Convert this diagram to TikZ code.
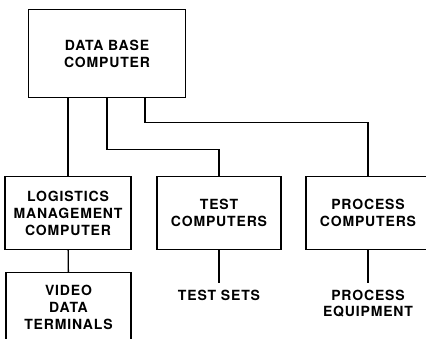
\documentclass[tikz,border=0pt]{standalone}
\usepackage{fontspec}
\setmainfont{TeX Gyre Heros}
\newfontfamily\boxfont[LetterSpace=6]{TeX Gyre Heros}
\usepackage{tikz}
\usetikzlibrary{arrows.meta,positioning}

\begin{document}
\begin{tikzpicture}[x=1pt,y=-1pt,node distance=33pt,line width=1.4pt,
 box/.style={draw,align=center,inner sep=0pt,font=\boxfont\bfseries\fontsize{14}{17}\selectfont},
 tag/.style={align=center,inner xsep=0pt,inner ysep=6pt,font=\boxfont\bfseries\fontsize{14}{16}\selectfont}]
\useasboundingbox (0,0) rectangle (426,338);
\node[box,minimum width=157pt,minimum height=88pt] (db) at (107,53.5) {DATA BASE\\COMPUTER};
\node[box,minimum width=126pt,minimum height=73pt] (logi) at (68,213) {LOGISTICS\\MANAGEMENT\\COMPUTER};
\node[box,minimum width=124pt,minimum height=73pt] (test) at (219,213) {TEST\\COMPUTERS};
\node[box,minimum width=124pt,minimum height=73pt] (proc) at (368,213) {PROCESS\\COMPUTERS};
\node[box,minimum width=125pt,minimum height=70pt] (vdt) at (68.5,307.5) {VIDEO\\DATA\\TERMINALS};
\node[tag,below=of test] (sets) {TEST SETS};
\node[tag,below=of proc] (equip) {PROCESS\\EQUIPMENT};
\coordinate (dbr) at ([xshift=38pt]db.south);
\draw (db.south -| logi.north) -- (logi.north);
\draw (db.south) -- ++(0,51) -| (test.north);
\draw (dbr) -- ++(0,24) -| (proc.north);
\draw (logi) -- (vdt); \draw (test) -- (sets); \draw (proc) -- (equip);
\end{tikzpicture}
\end{document}
